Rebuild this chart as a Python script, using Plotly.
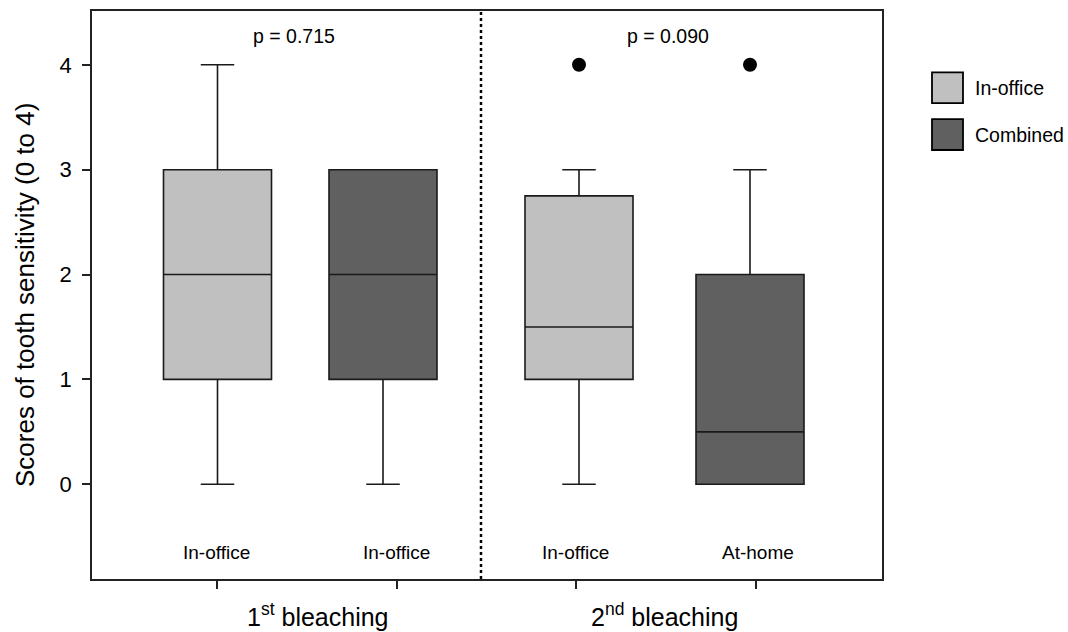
import plotly.graph_objects as go

# ---- data ----
groups = ["1<sup>st</sup> bleaching", "2<sup>nd</sup> bleaching"]
box_labels = ["In-office", "In-office", "In-office", "At-home"]
series = ["In-office", "Combined", "In-office", "Combined"]
q1 = [1, 1, 1, 0]
median = [2, 2, 1.5, 0.5]
q3 = [3, 3, 2.75, 2]
lower = [0, 0, 0, 0]
upper = [4, 3, 3, 3]
outliers = [[], [], [4], [4]]
p_values = ["p = 0.715", "p = 0.090"]
y_ticks = [0, 1, 2, 3, 4]

# ---- layout constants ----
colors = {"In-office": "#C0C0C0", "Combined": "#606060"}
box_x = [1.255, 2.91, 4.87, 6.58]
tick_x = [1.25, 3.05, 4.84, 6.64]
label_x = [1.24, 3.04, 4.83, 6.66]
group_x = [2.26, 5.72]
p_x = [2.02, 5.76]
divider_x = 3.89
FONT = "Arial, Liberation Sans, sans-serif"

fig = go.Figure()
for i in range(len(q1)):
    fig.add_trace(go.Box(
        x=[box_x[i]], q1=[q1[i]], median=[median[i]], q3=[q3[i]],
        lowerfence=[lower[i]], upperfence=[upper[i]],
        width=1.08, whiskerwidth=0.31, boxpoints=False,
        fillcolor=colors[series[i]], line=dict(color="#1a1a1a", width=1.6),
        showlegend=False, hoverinfo="skip",
    ))
    if outliers[i]:
        fig.add_trace(go.Scatter(
            x=[box_x[i]] * len(outliers[i]), y=outliers[i], mode="markers",
            marker=dict(color="black", size=14), showlegend=False, hoverinfo="skip",
        ))

annotations = []
for i, lab in enumerate(box_labels):
    annotations.append(dict(x=label_x[i], y=-0.646, xref="x", yref="y", text=lab,
                            showarrow=False, font=dict(size=19, color="black", family=FONT)))
for i, p in enumerate(p_values):
    annotations.append(dict(x=p_x[i], y=4.276, xref="x", yref="y", text=p,
                            showarrow=False, font=dict(size=19.5, color="black", family=FONT)))
for i, g in enumerate(groups):
    annotations.append(dict(x=group_x[i], y=-0.063, xref="x", yref="paper", text=g,
                            showarrow=False, yanchor="middle",
                            font=dict(size=25, color="black", family=FONT)))
annotations.append(dict(x=-67 / 790, y=0.5, xref="paper", yref="paper",
                        xanchor="center", yanchor="middle",
                        text="Scores of tooth sensitivity (0 to 4)", textangle=-90,
                        showarrow=False, font=dict(size=26, color="black", family=FONT)))

# manual legend
shapes = [dict(type="line", x0=divider_x, x1=divider_x, y0=0, y1=1, xref="x", yref="paper",
               line=dict(color="black", width=2.5, dash="dot"))]
leg_y = [86, 133]
for j, name in enumerate(["In-office", "Combined"]):
    yc = leg_y[j]
    shapes.append(dict(type="rect", xref="paper", yref="paper",
                       x0=(932 - 92) / 790, x1=(963 - 92) / 790,
                       y0=(579 - (yc + 15.5)) / 570, y1=(579 - (yc - 15.5)) / 570,
                       fillcolor=colors[name], line=dict(color="black", width=1.8)))
    annotations.append(dict(x=(973 - 92) / 790, y=(579 - yc) / 570, xref="paper", yref="paper",
                            text=name, showarrow=False, xanchor="left", yanchor="middle",
                            font=dict(size=19.5, color="black", family=FONT)))

fig.update_layout(
    width=1068, height=632,
    margin=dict(l=92, r=186, t=9, b=53),
    plot_bgcolor="white", paper_bgcolor="white",
    font=dict(family=FONT, color="black"),
    shapes=shapes, annotations=annotations,
    xaxis=dict(range=[0, 7.9], tickvals=tick_x, ticktext=[""] * 4, ticks="outside",
               ticklen=8, tickwidth=1.5, tickcolor="#222", showgrid=False, zeroline=False,
               showline=True, mirror=True, linecolor="#222", linewidth=1.6),
    yaxis=dict(range=[-0.903, 4.513], tickvals=y_ticks, ticks="outside", ticklen=8,
               tickwidth=1.5, tickcolor="#222", showgrid=False, zeroline=False,
               showline=True, mirror=True, linecolor="#222", linewidth=1.6,
               ticklabelstandoff=6,
               tickfont=dict(size=22, color="black", family=FONT)),
)

fig.write_html("out.html", config={"displayModeBar": False},
               post_script="document.body.style.margin='0';document.body.style.overflow='hidden';")
